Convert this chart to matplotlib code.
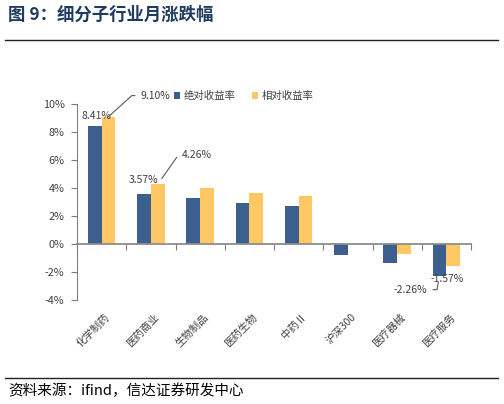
import matplotlib
matplotlib.use("Agg")
import matplotlib.pyplot as plt
import matplotlib.transforms as mtransforms
from matplotlib.lines import Line2D
from matplotlib.ticker import FuncFormatter
import numpy as np

plt.rcParams['font.family'] = ['Noto Sans CJK SC', 'DejaVu Sans']

# data
categories = ['化学制药', '医药商业', '生物制品', '医药生物', '中药Ⅱ', '沪深300', '医疗器械', '医疗服务']
abs_ret = [8.41, 3.57, 3.26, 2.95, 2.68, -0.76, -1.36, -2.26]
rel_ret = [9.10, 4.26, 3.98, 3.62, 3.43, 0.0, -0.69, -1.57]
yticks = [-4, -2, 0, 2, 4, 6, 8, 10]

blue = '#3D5F8E'
orange = '#FFC864'
txt = '#404040'

W, H = 504, 404
fig = plt.figure(figsize=(W / 100, H / 100), dpi=100)
fig.set_facecolor('white')
ax = fig.add_axes([77 / W, 1 - 300 / H, 394 / W, 196 / H])

x = np.arange(len(categories))
bw = 0.28
ax.bar(x - bw / 2, abs_ret, bw, color=blue, label='绝对收益率', zorder=2)
ax.bar(x + bw / 2, rel_ret, bw, color=orange, label='相对收益率', zorder=2)

ax.set_xlim(-0.5, len(categories) - 0.5)
ax.set_ylim(-4, 10)
ax.set_yticks(yticks)
ax.yaxis.set_major_formatter(FuncFormatter(lambda v, p: '{:.0f}%'.format(v)))
ax.tick_params(axis='y', labelsize=7.8, labelcolor=txt, length=4, width=0.8, pad=5,
               color='#7f7f7f')

for s in ['top', 'right']:
    ax.spines[s].set_visible(False)
ax.spines['left'].set_color('#7f7f7f')
ax.spines['bottom'].set_position(('data', 0))
ax.spines['bottom'].set_color('#8c8c8c')
ax.spines['bottom'].set_linewidth(1.3)
ax.spines['bottom'].set_zorder(3)
ax.set_xticks(np.arange(-0.5, len(categories), 1))
ax.tick_params(axis='x', labelbottom=False, length=4, width=0.8, color='#7f7f7f')

lab_tr = mtransforms.offset_copy(ax.get_xaxis_transform(), fig=fig, x=3, y=-12, units='dots')
for i, name in enumerate(categories):
    ax.text(i, 0, name, transform=lab_tr, rotation=45, rotation_mode='anchor',
            ha='right', va='top', fontsize=7.5, color=txt)

# value labels
ax.annotate('8.41%', (0 - bw / 2, abs_ret[0]), xytext=(2, 10), textcoords='offset pixels',
            ha='center', va='center', fontsize=7.5, color=txt)
ax.annotate('3.57%', (1 - bw / 2, abs_ret[1]), xytext=(0, 14), textcoords='offset pixels',
            ha='center', va='center', fontsize=7.5, color=txt)
ax.annotate('9.10%', (0 + bw / 2, rel_ret[0]), xytext=(32, 21), textcoords='offset pixels',
            ha='left', va='center', fontsize=7.5, color=txt,
            arrowprops=dict(arrowstyle='-', color='#595959', lw=0.8, relpos=(0, 0.5),
                            connectionstyle='angle,angleA=0,angleB=42,rad=0',
                            shrinkA=2, shrinkB=0))
ax.annotate('4.26%', (1 + bw / 2, rel_ret[1]), xytext=(24, 29), textcoords='offset pixels',
            ha='left', va='center', fontsize=7.5, color=txt,
            arrowprops=dict(arrowstyle='-', color='#595959', lw=0.8, relpos=(0, 0.5),
                            connectionstyle='angle,angleA=0,angleB=55,rad=0',
                            shrinkA=2, shrinkB=5))
ax.annotate('-1.57%', (7 + bw / 2, rel_ret[7]), xytext=(-6, -13), textcoords='offset pixels',
            ha='center', va='center', fontsize=7.5, color=txt)
ax.annotate('-2.26%', (7 - bw / 2, abs_ret[7]), xytext=(-12, -14), textcoords='offset pixels',
            ha='right', va='center', fontsize=7.5, color=txt,
            arrowprops=dict(arrowstyle='-', color='#595959', lw=0.8, relpos=(1, 0.5),
                            connectionstyle='angle,angleA=0,angleB=80,rad=0',
                            shrinkA=2, shrinkB=5))

ax.legend(loc='center left', bbox_to_anchor=(174 / W, 1 - 96 / H), bbox_transform=fig.transFigure,
          ncol=2, frameon=False, fontsize=7.5, handlelength=0.6, handleheight=0.6,
          handletextpad=0.3, columnspacing=1.6, borderpad=0, borderaxespad=0,
          labelcolor=txt)

# title, rules and source
fig.text(8 / W, 1 - 15 / H, '图 9：细分子行业月涨跌幅', fontsize=12.5, fontweight='bold',
         color='#1F3A5F', va='center', ha='left')
fig.add_artist(Line2D([5 / W, 498 / W], [1 - 40 / H] * 2, color='#222222', lw=1))
fig.add_artist(Line2D([5 / W, 498 / W], [1 - 378 / H] * 2, color='#222222', lw=1))
fig.text(8 / W, 1 - 391 / H, '资料来源：ifind，信达证券研发中心', fontsize=10.5, style='italic',
         color='black', va='center', ha='left')

plt.savefig('out.png', dpi=100, facecolor='white')
